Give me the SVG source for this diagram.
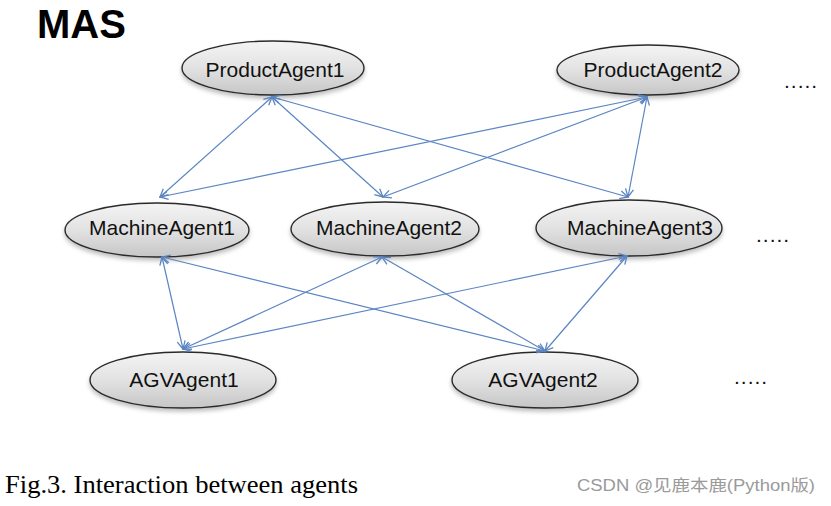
<svg xmlns="http://www.w3.org/2000/svg" width="831" height="506" viewBox="0 0 831 506">
<defs>
<linearGradient id="nodeFill" x1="0" y1="0" x2="0" y2="1">
<stop offset="0" stop-color="#f4f4f4"/>
<stop offset="0.5" stop-color="#e2e2e2"/>
<stop offset="1" stop-color="#c6c6c6"/>
</linearGradient>
<filter id="shadow" x="-20%" y="-30%" width="140%" height="170%">
<feDropShadow dx="0" dy="3" stdDeviation="2" flood-color="#000" flood-opacity="0.25"/>
</filter>
<marker id="arr" viewBox="0 0 10 10" refX="9" refY="5" markerWidth="10" markerHeight="10" markerUnits="userSpaceOnUse" orient="auto-start-reverse">
<path d="M1,1 L9,5 L1,9" fill="none" stroke="#5b85c2" stroke-width="1.3"/>
</marker>
</defs>
<style>
.node ellipse{fill:url(#nodeFill);stroke:#2b2b2b;stroke-width:1.4;filter:url(#shadow)}
.node text{font-family:"Liberation Sans",Arial,sans-serif;font-size:21px;fill:#111;text-anchor:middle}
.edge{stroke:#5b85c2;stroke-width:1.2;fill:none;marker-start:url(#arr);marker-end:url(#arr)}
.dots{font-family:"Liberation Sans",Arial,sans-serif;font-size:21px;fill:#111;letter-spacing:1px}
</style>
<rect width="831" height="506" fill="#fff"/>
<text x="37" y="38" font-family="Liberation Sans,Arial,sans-serif" font-size="40" font-weight="bold" fill="#000">MAS</text>

<g id="nodes">
<g id="ProductAgent1" class="node"><ellipse cx="273" cy="68" rx="91" ry="27"/><text x="275" y="77">ProductAgent1</text></g>
<g id="ProductAgent2" class="node"><ellipse cx="648" cy="70" rx="91" ry="25"/><text x="653" y="77">ProductAgent2</text></g>
<g id="MachineAgent1" class="node"><ellipse cx="157" cy="230" rx="92" ry="27"/><text x="162" y="235">MachineAgent1</text></g>
<g id="MachineAgent2" class="node"><ellipse cx="385" cy="229" rx="94" ry="27"/><text x="389" y="235">MachineAgent2</text></g>
<g id="MachineAgent3" class="node"><ellipse cx="629" cy="228" rx="93" ry="28"/><text x="640" y="235">MachineAgent3</text></g>
<g id="AGVAgent1" class="node"><ellipse cx="183" cy="380" rx="93" ry="28"/><text x="184" y="387">AGVAgent1</text></g>
<g id="AGVAgent2" class="node"><ellipse cx="545" cy="380" rx="93" ry="28"/><text x="543" y="387">AGVAgent2</text></g>
</g>

<g id="connectors">
<line class="edge" x1="272" y1="97" x2="160" y2="197"/>
<line class="edge" x1="272" y1="97" x2="383" y2="197"/>
<line class="edge" x1="272" y1="97" x2="628" y2="197"/>
<line class="edge" x1="647" y1="97" x2="160" y2="197"/>
<line class="edge" x1="647" y1="97" x2="383" y2="197"/>
<line class="edge" x1="647" y1="97" x2="628" y2="197"/>
<line class="edge" x1="162" y1="257" x2="183" y2="349"/>
<line class="edge" x1="162" y1="257" x2="545" y2="351"/>
<line class="edge" x1="382" y1="257" x2="183" y2="349"/>
<line class="edge" x1="382" y1="257" x2="545" y2="351"/>
<line class="edge" x1="627" y1="256" x2="183" y2="349"/>
<line class="edge" x1="627" y1="256" x2="545" y2="351"/>
</g>

<text class="dots" x="784" y="88">.....</text>
<text class="dots" x="756" y="242">.....</text>
<text class="dots" x="734" y="384">.....</text>

<text x="5" y="493" font-family="Liberation Serif,Times New Roman,serif" font-size="26" fill="#000" textLength="353" lengthAdjust="spacingAndGlyphs">Fig.3. Interaction between agents</text>
<text x="577" y="491" font-family="Liberation Sans,Arial,Noto Sans CJK SC,sans-serif" font-size="16" fill="#9a9a9a" textLength="238" lengthAdjust="spacingAndGlyphs">CSDN @见鹿本鹿(Python版)</text>
</svg>
